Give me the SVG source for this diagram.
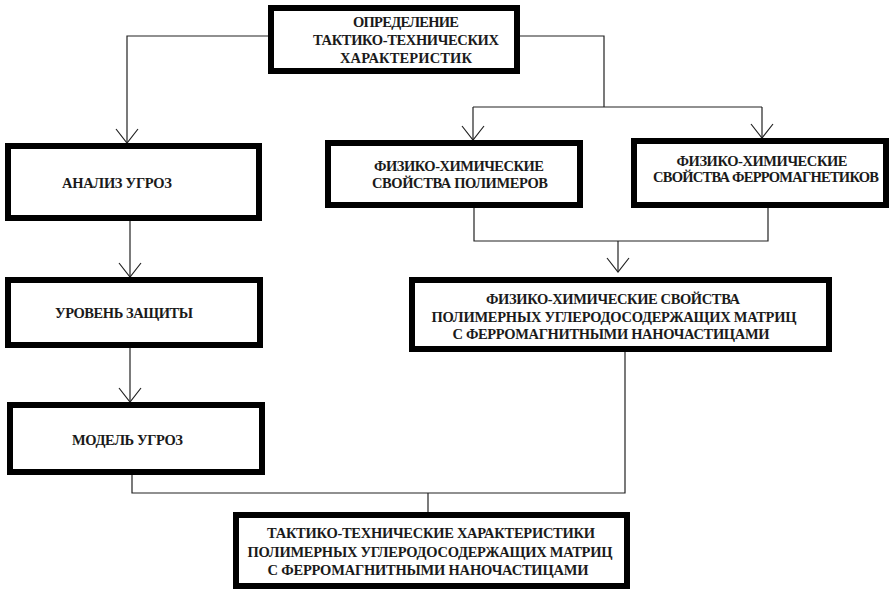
<svg xmlns="http://www.w3.org/2000/svg" width="896" height="594" viewBox="0 0 896 594">
<style>
.box{fill:#fff;stroke:#000;stroke-width:6}
.t{font-family:"Liberation Serif","DejaVu Serif","Times New Roman",serif;font-weight:bold;font-size:14.5px;fill:#1a1a1a}
.c{text-anchor:middle}
.ln{fill:none;stroke:#222;stroke-width:1.2}
</style>
<defs>
<marker id="ah" markerUnits="userSpaceOnUse" markerWidth="30" markerHeight="30" refX="0" refY="0" orient="auto" overflow="visible">
<path d="M-14,-11 L0,0 L-14,11" fill="none" stroke="#222" stroke-width="1.2"/>
</marker>
</defs>
<rect width="896" height="594" fill="#fff"/>
<g id="connectors">
<path class="ln" d="M268,36 H127 V143" marker-end="url(#ah)"/>
<path class="ln" d="M520,36 H604 V107"/>
<path class="ln" d="M473,107 H762"/>
<path class="ln" d="M473,107 V140" marker-end="url(#ah)"/>
<path class="ln" d="M762,107 V138" marker-end="url(#ah)"/>
<path class="ln" d="M130,221 V277" marker-end="url(#ah)"/>
<path class="ln" d="M130,348 V402" marker-end="url(#ah)"/>
<path class="ln" d="M474,208 V241 H768 V208"/>
<path class="ln" d="M618,241 V272" marker-end="url(#ah)"/>
<path class="ln" d="M132,475 V493 H625 V352"/>
<path class="ln" d="M428,493 V512"/>
</g>
<g id="node-top">
<rect class="box" x="271" y="8" width="246" height="63"/>
<text class="t c" x="406" y="27" textLength="106">ОПРЕДЕЛЕНИЕ</text>
<text class="t c" x="406" y="45" textLength="186">ТАКТИКО-ТЕХНИЧЕСКИХ</text>
<text class="t c" x="406" y="63" textLength="132">ХАРАКТЕРИСТИК</text>
</g>
<g id="node-analysis">
<rect class="box" x="8" y="146" width="251" height="72"/>
<text class="t" x="62" y="188" textLength="110">АНАЛИЗ УГРОЗ</text>
</g>
<g id="node-level">
<rect class="box" x="8" y="280" width="252" height="65"/>
<text class="t" x="55" y="318" textLength="138">УРОВЕНЬ ЗАЩИТЫ</text>
</g>
<g id="node-model">
<rect class="box" x="10" y="405" width="252" height="67"/>
<text class="t" x="72" y="445" textLength="111">МОДЕЛЬ УГРОЗ</text>
</g>
<g id="node-polymers">
<rect class="box" x="328" y="143" width="252" height="62"/>
<text class="t c" x="459" y="171" textLength="170">ФИЗИКО-ХИМИЧЕСКИЕ</text>
<text class="t c" x="460" y="188" textLength="176">СВОЙСТВА ПОЛИМЕРОВ</text>
</g>
<g id="node-ferro">
<rect class="box" x="634" y="141" width="252" height="64"/>
<text class="t c" x="762" y="166" textLength="171">ФИЗИКО-ХИМИЧЕСКИЕ</text>
<text class="t c" x="766" y="182" textLength="226">СВОЙСТВА ФЕРРОМАГНЕТИКОВ</text>
</g>
<g id="node-matrix">
<rect class="box" x="412" y="280" width="417" height="69"/>
<text class="t c" x="613" y="304" textLength="254">ФИЗИКО-ХИМИЧЕСКИЕ СВОЙСТВА</text>
<text class="t c" x="614" y="322" textLength="365">ПОЛИМЕРНЫХ УГЛЕРОДОСОДЕРЖАЩИХ МАТРИЦ</text>
<text class="t c" x="611" y="339" textLength="317">С ФЕРРОМАГНИТНЫМИ НАНОЧАСТИЦАМИ</text>
</g>
<g id="node-final">
<rect class="box" x="236" y="515" width="391" height="71"/>
<text class="t c" x="431" y="538" textLength="328">ТАКТИКО-ТЕХНИЧЕСКИЕ ХАРАКТЕРИСТИКИ</text>
<text class="t c" x="430" y="557" textLength="365">ПОЛИМЕРНЫХ УГЛЕРОДОСОДЕРЖАЩИХ МАТРИЦ</text>
<text class="t c" x="428" y="575" textLength="321">С ФЕРРОМАГНИТНЫМИ НАНОЧАСТИЦАМИ</text>
</g>
</svg>
